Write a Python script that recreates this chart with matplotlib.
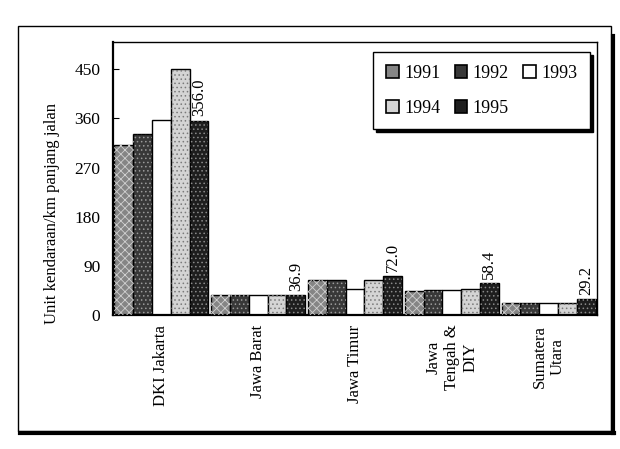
import numpy as np
import matplotlib
matplotlib.use("Agg")
import matplotlib.pyplot as plt
from matplotlib.patches import Rectangle
from matplotlib.lines import Line2D

plt.rcParams['font.family'] = ['Liberation Serif', 'DejaVu Serif']

regions = ["DKI Jakarta", "Jawa Barat", "Jawa Timur", "Jawa\nTengah &\nDIY", "Sumatera\nUtara"]
years = ["1991", "1992", "1993", "1994", "1995"]
v1991 = [312, 36, 64, 44, 22]
v1992 = [332, 36, 64, 46, 22]
v1993 = [358, 36, 47, 46, 22]
v1994 = [450, 36, 64, 48, 22]
v1995 = [356.0, 36.9, 72.0, 58.4, 29.2]
series = [v1991, v1992, v1993, v1994, v1995]

faces = ['#858585', '#383838', '#ffffff', '#d4d4d4', '#1e1e1e']
hatches = ['xxxx', '....', None, '....', '....']
hcolors = ['#d0d0d0', '#9a9a9a', None, '#7a7a7a', '#8a8a8a']

W, H = 620, 449
fig = plt.figure(figsize=(6.2, 4.49), dpi=100)
ax = fig.add_axes([113 / W, 1 - 315 / H, 484 / W, 273 / H])

plt.rcParams['hatch.linewidth'] = 0.6
x = np.arange(len(regions))
bw = 0.194
handles = []
for i, vals in enumerate(series):
    pos = x + (i - 2) * bw
    ax.bar(pos, vals, width=bw, color=faces[i], edgecolor='black', linewidth=1.0, zorder=2)
    if hatches[i]:
        ax.bar(pos, vals, width=bw, facecolor='none', edgecolor=hcolors[i],
               hatch=hatches[i], linewidth=0, zorder=3)
    handles.append(Rectangle((0, 0), 1, 1, facecolor=faces[i], edgecolor='black',
                             linewidth=1.2))

# value labels on the 1995 bars
for xi, v in zip(x + 2 * bw, v1995):
    ax.annotate(f"{v:.1f}", (xi, v), xytext=(0, 3), textcoords='offset points',
                rotation=90, ha='center', va='bottom', fontsize=12)

ax.set_xlim(-0.5, 4.5)
ax.set_ylim(0, 500)
ax.set_yticks(range(0, 451, 90))
ax.tick_params(axis='y', direction='in', length=4, pad=9, labelsize=12.5)
ax.set_xticks(x)
ax.set_xticklabels(regions, rotation=90, va='top', ha='center', multialignment='center',
                   fontsize=12)
ax.tick_params(axis='x', length=0, pad=7)
for s in ['left', 'bottom']:
    ax.spines[s].set_linewidth(1.6)
for s in ['top', 'right']:
    ax.spines[s].set_linewidth(1.0)
    ax.spines[s].set_linestyle((0, (3, 1)))

# legend fills column by column, so reorder to read 1991 1992 1993 / 1994 1995
order = [0, 3, 1, 4, 2]
leg = ax.legend([handles[k] for k in order], [years[k] for k in order], ncol=3,
                loc='upper right', bbox_to_anchor=(0.986, 0.963), borderaxespad=0,
                fontsize=13, handlelength=0.7, handleheight=0.7,
                handletextpad=0.3, columnspacing=0.8, labelspacing=1.0,
                borderpad=0.7, fancybox=False,
                shadow={'color': 'black', 'alpha': 1.0})
leg.get_frame().set_edgecolor('black')
leg.get_frame().set_linewidth(1.0)

fig.text(52 / W, 1 - 214 / H, "Unit kendaraan/km panjang jalan", rotation=90,
         ha='center', va='center', fontsize=12)

# outer frame with heavy right/bottom edge
fx0, fx1, fy0, fy1 = 18 / W, 611 / W, 1 - 431 / H, 1 - 26 / H
fig.patches.append(Rectangle((fx0, fy0), fx1 - fx0, fy1 - fy0, transform=fig.transFigure,
                             fill=False, edgecolor='black', linewidth=1.0))
fig.lines.append(Line2D([fx1 + 2 / W, fx1 + 2 / W], [fy0 - 2 / H, 1 - 36 / H],
                        transform=fig.transFigure, color='black', linewidth=3))
fig.lines.append(Line2D([fx0 + 2 / W, fx1 + 3 / W], [fy0 - 2 / H, fy0 - 2 / H],
                        transform=fig.transFigure, color='black', linewidth=3))

fig.savefig("out.png", dpi=100)
